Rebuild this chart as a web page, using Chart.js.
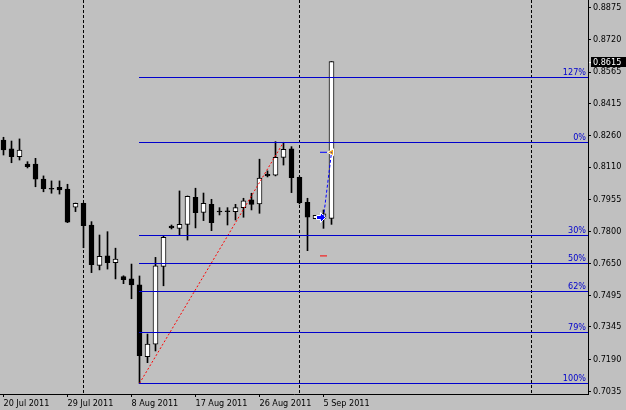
<!DOCTYPE html>
<html><head><meta charset="utf-8">
<script src="https://cdn.jsdelivr.net/npm/chart.js@4/dist/chart.umd.min.js"></script>
<style>html,body{margin:0;padding:0;background:#c0c0c0;}canvas{display:block;background:#c0c0c0;}</style>
</head><body>
<canvas id="c" width="626" height="410"></canvas>
<script>
// ---- data (daily candles, index 0 = 20 Jul 2011) ----
const opens  = [0.8240,0.8197,0.8160,0.8124,0.8125,0.8053,0.8009,0.8013,0.8005,0.7918,
                0.7937,0.7833,0.7640,0.7685,0.7653,0.7586,0.7575,0.7546,0.7203,0.7262,
                0.7635,0.7828,0.7817,0.7836,0.7966,0.7893,0.7932,0.7900,0.7901,0.7897,
                0.7916,0.7953,0.7934,0.8076,0.8071,0.8157,0.8197,0.8061,0.7942,0.7863,
                0.7865,0.7865];
const highs  = [0.8253,0.8235,0.8245,0.8136,0.8152,0.8068,0.8044,0.8044,0.8028,0.7938,
                0.7938,0.7849,0.7785,0.7801,0.7722,0.7590,0.7646,0.7589,0.7311,0.7678,
                0.7782,0.7833,0.7996,0.7972,0.8009,0.7986,0.7956,0.7916,0.7916,0.7932,
                0.7961,0.7985,0.8148,0.8092,0.8232,0.8229,0.8208,0.8063,0.7961,0.7879,
                0.7905,0.8615];
const lows   = [0.8168,0.8131,0.8144,0.8106,0.8016,0.7992,0.7985,0.7981,0.7844,0.7897,
                0.7724,0.7605,0.7618,0.7622,0.7575,0.7552,0.7480,0.7075,0.7174,0.7230,
                0.7542,0.7814,0.7785,0.7761,0.7819,0.7854,0.7806,0.7881,0.7833,0.7857,
                0.7870,0.7905,0.7889,0.8063,0.8068,0.8120,0.7988,0.7934,0.7710,0.7863,
                0.7817,0.7836];
const closes = [0.8192,0.8160,0.8192,0.8112,0.8052,0.8007,0.8004,0.8001,0.7847,0.7937,
                0.7830,0.7643,0.7683,0.7653,0.7670,0.7571,0.7546,0.7207,0.7263,0.7637,
                0.7774,0.7819,0.7836,0.7970,0.7892,0.7937,0.7844,0.7895,0.7897,0.7916,
                0.7949,0.7932,0.8058,0.8068,0.8157,0.8195,0.8059,0.7940,0.7870,0.7879,
                0.7886,0.8615];
const priceTicks = [0.7035,0.7190,0.7345,0.7495,0.7650,0.7800,0.7955,0.8110,0.8260,0.8415,0.8565,0.8720,0.8875];
const dateTickIdx = [0,8,16,24,32,40];
const dateLabels = ['20 Jul 2011','29 Jul 2011','8 Aug 2011','17 Aug 2011','26 Aug 2011','5 Sep 2011'];
const separatorIdx = [10,37,66];           // 1 Aug, 1 Sep, 1 Oct
const fibLabels = ['127%','0%','30%','50%','62%','79%','100%'];
const fibPrices = [0.8540,0.8229,0.7784,0.7650,0.7516,0.7319,0.7075];
const fibStartIdx = 17, fibLowIdx = 17, fibHighIdx = 35;
const fibLow = 0.7075, fibHigh = 0.8229;
const tradeOpenIdx = 40, tradeCloseIdx = 41;
const tradeOpenPrice = 0.7869, tradeClosePrice = 0.8181;
const takeProfit = 0.8181, stopLoss = 0.7685;
const lastPrice = 0.8615;

const xMin = -0.4375, xMax = 73.0625, yMin = 0.7024, yMax = 0.8910;
const FONT = {family:"'DejaVu Sans Condensed','DejaVu Sans',sans-serif", size:9};
const BLUE = '#0000cc';

const idx = opens.map((_, i) => i);

function makeArrow(){
  const c = document.createElement('canvas'); c.width = 15; c.height = 11;
  const g = c.getContext('2d');
  g.beginPath();
  g.moveTo(0.5,3.5); g.lineTo(4.5,3.5); g.lineTo(4.5,0.5); g.lineTo(9.5,5.5);
  g.lineTo(4.5,10.5); g.lineTo(4.5,7.5); g.lineTo(0.5,7.5); g.closePath();
  g.fillStyle = '#0000ff'; g.fill(); g.strokeStyle = '#ffffff'; g.lineWidth = 1; g.stroke();
  return c;
}

const datasets = [];
datasets.push({type:'line', data:[{x:fibLowIdx,y:fibLow},{x:fibHighIdx,y:fibHigh}],
  borderColor:'#ff0000', borderWidth:1, borderDash:[2,2], pointRadius:0, fill:false, order:0});
datasets.push({type:'line', data:[{x:tradeOpenIdx,y:tradeOpenPrice},{x:tradeCloseIdx,y:tradeClosePrice}],
  borderColor:'#0000ff', borderWidth:1, borderDash:[3,2], pointRadius:0, fill:false, order:0});
datasets.push({type:'scatter', data:[{x:tradeOpenIdx,y:tradeOpenPrice}], pointStyle:makeArrow(), order:0});
datasets.push({type:'scatter', data:[{x:tradeCloseIdx,y:tradeClosePrice}], pointStyle:'triangle', rotation:270,
  pointRadius:4, backgroundColor:'#e8a020', borderColor:'#ffffff', borderWidth:1, order:0});
datasets.push({type:'scatter', data:[{x:tradeOpenIdx,y:takeProfit}], pointStyle:'line', pointRadius:3.5,
  borderColor:'#0000ff', borderWidth:1, order:0});
datasets.push({type:'scatter', data:[{x:tradeOpenIdx,y:stopLoss}], pointStyle:'line', pointRadius:3.5,
  borderColor:'#ff0000', borderWidth:1, order:0});
datasets.push({type:'bar', data: idx.map(i => ({x:i, y:[Math.min(opens[i],closes[i]), Math.max(opens[i],closes[i])]})),
  backgroundColor: idx.map(i => closes[i] >= opens[i] ? '#ffffff' : '#000000'),
  borderColor:'#000000', borderWidth:1, borderSkipped:false, barThickness:5, grouped:false, order:1});
datasets.push({type:'bar', data: idx.map(i => ({x:i, y:[lows[i], highs[i]]})),
  backgroundColor:'#000000', borderWidth:0, barThickness:1, grouped:false, order:2});

const overlay = {
  id:'overlay',
  beforeDatasetsDraw(chart){
    const {ctx, chartArea:a, scales:{x}} = chart;
    ctx.save(); ctx.strokeStyle = '#000'; ctx.lineWidth = 1; ctx.setLineDash([3,2]);
    separatorIdx.forEach(i => {
      const px = Math.floor(x.getPixelForValue(i)) + 0.5;
      ctx.beginPath(); ctx.moveTo(px, a.top); ctx.lineTo(px, a.bottom); ctx.stroke();
    });
    ctx.restore();
  },
  afterDatasetsDraw(chart){
    const {ctx, chartArea:a, scales:{x, y}} = chart;
    ctx.save();
    // Fibonacci level lines (snapped to pixel rows for crispness)
    ctx.strokeStyle = BLUE; ctx.lineWidth = 1;
    const x0 = Math.floor(x.getPixelForValue(fibStartIdx));
    fibPrices.forEach(p => {
      const py = Math.floor(y.getPixelForValue(p)) + 0.5;
      ctx.beginPath(); ctx.moveTo(x0, py); ctx.lineTo(a.right, py); ctx.stroke();
    });
    ctx.fillStyle = BLUE; ctx.font = `${FONT.size}px ${FONT.family}`;
    ctx.textAlign = 'right'; ctx.textBaseline = 'alphabetic';
    fibPrices.forEach((p, k) => {
      const py = Math.floor(y.getPixelForValue(p));
      ctx.fillText(fibLabels[k], a.right - 2, py - 2);
    });
    ctx.restore();
  },
  afterDraw(chart){
    const {ctx, chartArea:a, scales:{y}} = chart;
    const py = y.getPixelForValue(lastPrice);
    ctx.save();
    ctx.fillStyle = '#000'; ctx.fillRect(a.right + 3, Math.round(py) - 5, 626 - a.right - 3, 10);
    ctx.fillStyle = '#fff'; ctx.fillRect(a.right + 1, Math.round(py), 2, 1);
    ctx.font = `${FONT.size}px ${FONT.family}`; ctx.textAlign = 'left'; ctx.textBaseline = 'middle';
    ctx.fillText(lastPrice.toFixed(4), a.right + 5, Math.round(py) + 0.5);
    ctx.restore();
  }
};

new Chart(document.getElementById('c'), {
  type:'bar',
  data:{datasets},
  plugins:[overlay],
  options:{
    responsive:false, animation:false, devicePixelRatio:1, events:[],
    layout:{padding:0, autoPadding:false},
    plugins:{legend:{display:false}, tooltip:{enabled:false}},
    scales:{
      x:{type:'linear', position:'bottom', min:xMin, max:xMax, offset:false,
        grid:{display:true, drawOnChartArea:false, drawTicks:true, tickLength:3, color:'#000', offset:false},
        border:{display:true, color:'#000', width:1},
        ticks:{autoSkip:false, maxRotation:0, minRotation:0, align:'start', padding:1, color:'#000', font:FONT,
          callback:(v, i) => dateLabels[i]},
        afterBuildTicks: s => { s.ticks = dateTickIdx.map(v => ({value:v})); },
        afterFit: s => { s.height = 16; s.paddingLeft = 0; s.paddingRight = 0; }
      },
      y:{type:'linear', position:'right', min:yMin, max:yMax,
        grid:{display:true, drawOnChartArea:false, drawTicks:true, tickLength:3, color:'#000'},
        border:{display:true, color:'#000', width:1},
        ticks:{autoSkip:false, padding:2, color:'#000', font:FONT, callback:v => Number(v).toFixed(4)},
        afterBuildTicks: s => { s.ticks = priceTicks.map(v => ({value:v})); },
        afterFit: s => { s.width = 38; s.paddingTop = 0; s.paddingBottom = 0; }
      }
    }
  }
});
</script>
</body></html>
